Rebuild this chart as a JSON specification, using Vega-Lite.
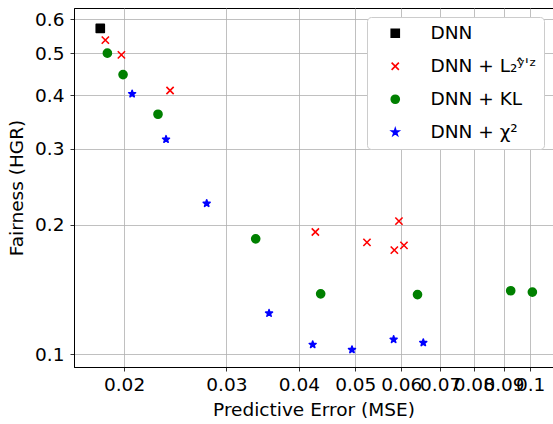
{
  "$schema": "https://vega.github.io/schema/vega-lite/v6.json",
  "width": 479,
  "height": 359,
  "autosize": "none",
  "padding": {"left": 74, "top": 8, "right": 0, "bottom": 57},
  "config": {
    "font": "DejaVu Sans",
    "view": {"stroke": "black", "strokeWidth": 1},
    "axis": {
      "labelFont": "DejaVu Sans",
      "titleFont": "DejaVu Sans",
      "labelFontSize": 18.5,
      "titleFontSize": 18.5,
      "labelColor": "black",
      "titleColor": "black",
      "titleFontWeight": "normal",
      "gridColor": "#b0b0b0",
      "gridWidth": 0.8,
      "gridOpacity": 1,
      "tickColor": "black",
      "tickSize": 4,
      "tickWidth": 0.8,
      "domainColor": "black",
      "domainWidth": 1
    },
    "legend": {
      "labelFont": "DejaVu Sans",
      "labelFontSize": 18.5,
      "labelColor": "black"
    }
  },
  "data": {
    "values": [
      {"method": "DNN", "mse": 0.0182, "hgr": 0.571},
      {"method": "DNN + L₂ʸ̂ˈᶻ", "mse": 0.01857, "hgr": 0.5365},
      {"method": "DNN + L₂ʸ̂ˈᶻ", "mse": 0.01979, "hgr": 0.4958},
      {"method": "DNN + L₂ʸ̂ˈᶻ", "mse": 0.0240, "hgr": 0.4098},
      {"method": "DNN + L₂ʸ̂ˈᶻ", "mse": 0.04269, "hgr": 0.1922},
      {"method": "DNN + L₂ʸ̂ˈᶻ", "mse": 0.05238, "hgr": 0.1819},
      {"method": "DNN + L₂ʸ̂ˈᶻ", "mse": 0.05946, "hgr": 0.2038},
      {"method": "DNN + L₂ʸ̂ˈᶻ", "mse": 0.05838, "hgr": 0.1745},
      {"method": "DNN + L₂ʸ̂ˈᶻ", "mse": 0.06065, "hgr": 0.1790},
      {"method": "DNN + KL", "mse": 0.01872, "hgr": 0.5003},
      {"method": "DNN + KL", "mse": 0.01992, "hgr": 0.4462},
      {"method": "DNN + KL", "mse": 0.02288, "hgr": 0.3609},
      {"method": "DNN + KL", "mse": 0.03370, "hgr": 0.1854},
      {"method": "DNN + KL", "mse": 0.04360, "hgr": 0.1381},
      {"method": "DNN + KL", "mse": 0.0640, "hgr": 0.1376},
      {"method": "DNN + KL", "mse": 0.0926, "hgr": 0.1404},
      {"method": "DNN + KL", "mse": 0.1009, "hgr": 0.1394},
      {"method": "DNN + χ²", "mse": 0.02065, "hgr": 0.4025},
      {"method": "DNN + χ²", "mse": 0.02362, "hgr": 0.3156},
      {"method": "DNN + χ²", "mse": 0.02775, "hgr": 0.2240},
      {"method": "DNN + χ²", "mse": 0.03553, "hgr": 0.1245},
      {"method": "DNN + χ²", "mse": 0.04224, "hgr": 0.1053},
      {"method": "DNN + χ²", "mse": 0.04936, "hgr": 0.1025},
      {"method": "DNN + χ²", "mse": 0.05822, "hgr": 0.1082},
      {"method": "DNN + χ²", "mse": 0.06548, "hgr": 0.1064}
    ]
  },
  "mark": {"type": "point", "filled": true, "size": 65, "strokeWidth": 1.6, "strokeJoin": "round", "opacity": 1},
  "encoding": {
    "x": {
      "field": "mse", "type": "quantitative",
      "scale": {"type": "log", "domain": [0.0164, 0.1095], "nice": false, "zero": false},
      "axis": {"title": "Predictive Error (MSE)", "values": [0.02, 0.03, 0.04, 0.05, 0.06, 0.07, 0.08, 0.09, 0.1], "format": "~g", "labelOverlap": false, "labelPadding": 4.5, "titlePadding": 6}
    },
    "y": {
      "field": "hgr", "type": "quantitative",
      "scale": {"type": "log", "domain": [0.0934, 0.637], "nice": false, "zero": false},
      "axis": {"title": "Fairness (HGR)", "values": [0.1, 0.2, 0.3, 0.4, 0.5, 0.6], "format": "~g", "labelOverlap": false, "labelPadding": 6, "titlePadding": 8}
    },
    "shape": {
      "field": "method", "type": "nominal",
      "scale": {"domain": ["DNN", "DNN + L₂ʸ̂ˈᶻ", "DNN + KL", "DNN + χ²"], "range": ["square", "M-0.9,-0.9L0.9,0.9M-0.9,0.9L0.9,-0.9", "circle", "M0,-0.9L0.202,-0.278L0.856,-0.278L0.327,0.106L0.529,0.728L0,0.344L-0.529,0.728L-0.327,0.106L-0.856,-0.278L-0.202,-0.278Z"]},
      "legend": {"title": null, "orient": "top-right", "offset": 9, "padding": 7, "symbolOffset": 12, "labelOffset": 26, "rowPadding": 14, "strokeColor": "#cccccc", "fillColor": "white", "cornerRadius": 4, "symbolSize": 65, "symbolStrokeWidth": 1.6,
        "encode": {"symbols": {"update": {"stroke": {"scale": "stroke", "field": "value"}, "strokeJoin": {"value": "round"}}}}}
    },
    "color": {
      "field": "method", "type": "nominal",
      "scale": {"domain": ["DNN", "DNN + L₂ʸ̂ˈᶻ", "DNN + KL", "DNN + χ²"], "range": ["black", "red", "green", "blue"]}
    },
    "stroke": {
      "field": "method", "type": "nominal",
      "scale": {"domain": ["DNN", "DNN + L₂ʸ̂ˈᶻ", "DNN + KL", "DNN + χ²"], "range": ["black", "red", "green", "blue"]},
      "legend": null
    }
  }
}
